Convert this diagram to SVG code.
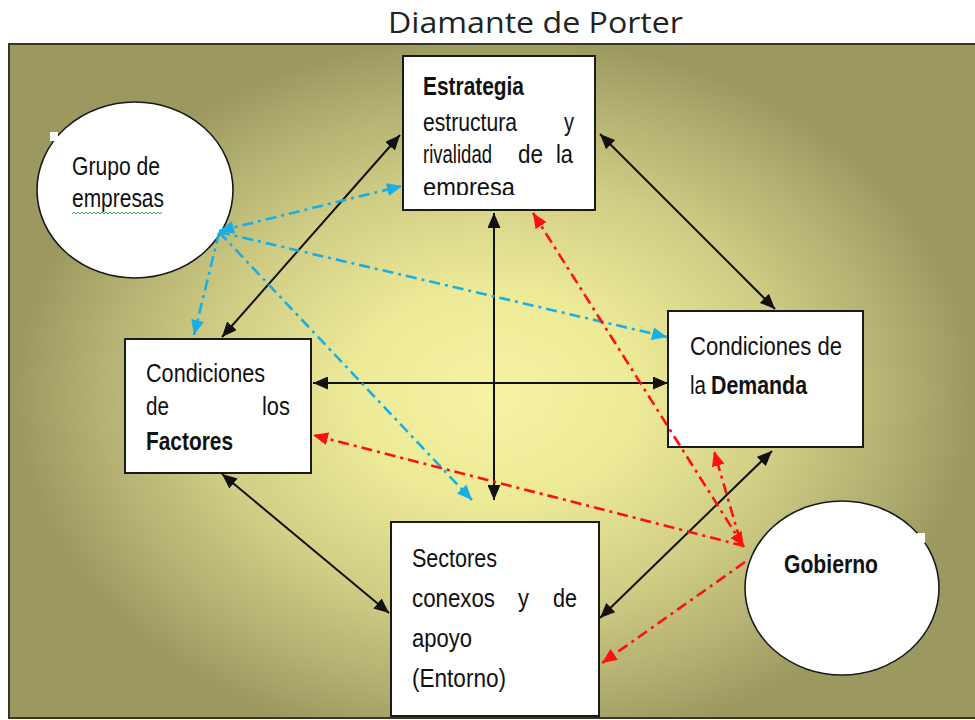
<svg xmlns="http://www.w3.org/2000/svg" width="975" height="720" viewBox="0 0 975 720">
<style>
.box{fill:#fff;stroke:#1a1a1a;stroke-width:2}
.ell{fill:#fff;stroke:#1a1a1a;stroke-width:1.6}
.t{font-family:"Liberation Sans",Arial,sans-serif;font-size:26px;fill:#111}
.b{font-weight:bold}
.blk{stroke:#111;stroke-width:2;fill:none;marker-start:url(#ak);marker-end:url(#ak)}
.blu{stroke:#19aee6;stroke-width:2.6;fill:none;stroke-dasharray:11 5 3 5}
.red{stroke:#ff1010;stroke-width:2.6;fill:none;stroke-dasharray:11 5 3 5}
</style>
<defs>
<radialGradient id="bg" gradientUnits="userSpaceOnUse" cx="495" cy="395" r="480" gradientTransform="translate(495 395) scale(1 0.75) translate(-495 -395)">
<stop offset="0" stop-color="#f6f4a2"/>
<stop offset="0.3" stop-color="#ecea97"/>
<stop offset="0.6" stop-color="#d0cd85"/>
<stop offset="0.85" stop-color="#b0ad70"/>
<stop offset="1" stop-color="#9c9960"/>
</radialGradient>
<marker id="ak" markerUnits="userSpaceOnUse" markerWidth="15" markerHeight="13" viewBox="0 0 15 13" refX="15" refY="6.5" orient="auto-start-reverse"><path d="M0,0 L15,6.5 L0,13 z" fill="#111"/></marker>
<marker id="ab" markerUnits="userSpaceOnUse" markerWidth="15" markerHeight="13" viewBox="0 0 15 13" refX="15" refY="6.5" orient="auto-start-reverse"><path d="M0,0 L15,6.5 L0,13 z" fill="#19aee6"/></marker>
<marker id="ar" markerUnits="userSpaceOnUse" markerWidth="15" markerHeight="13" viewBox="0 0 15 13" refX="15" refY="6.5" orient="auto-start-reverse"><path d="M0,0 L15,6.5 L0,13 z" fill="#ff1010"/></marker>
<clipPath id="clipE"><rect x="404" y="57" width="190" height="138"/></clipPath>
</defs>
<rect x="0" y="0" width="975" height="720" fill="#fff"/>
<text x="388" y="33" font-family="'Open Sans','Noto Sans',sans-serif" font-size="29" fill="#222" textLength="295" lengthAdjust="spacingAndGlyphs">Diamante de Porter</text>
<rect x="9" y="44" width="972" height="674" fill="url(#bg)" stroke="#3a3626" stroke-width="2"/>

<g id="estrategia">
<rect class="box" x="403" y="56" width="192" height="154"/>
<g clip-path="url(#clipE)">
<text class="t b" x="423" y="95" textLength="101" lengthAdjust="spacingAndGlyphs">Estrategia</text>
<text class="t" x="423" y="131" textLength="94" lengthAdjust="spacingAndGlyphs">estructura</text>
<text class="t" x="564" y="131" textLength="10" lengthAdjust="spacingAndGlyphs">y</text>
<text class="t" x="423" y="163" textLength="69" lengthAdjust="spacingAndGlyphs">rivalidad</text>
<text class="t" x="518" y="163" textLength="25" lengthAdjust="spacingAndGlyphs">de</text>
<text class="t" x="556" y="163" textLength="17" lengthAdjust="spacingAndGlyphs">la</text>
<text class="t" x="423" y="196" textLength="92" lengthAdjust="spacingAndGlyphs">empresa</text>
</g>
</g>

<g id="factores">
<rect class="box" x="125" y="339" width="186" height="134"/>
<text class="t" x="146" y="382" textLength="119" lengthAdjust="spacingAndGlyphs">Condiciones</text>
<text class="t" x="146" y="415" textLength="23" lengthAdjust="spacingAndGlyphs">de</text>
<text class="t" x="262" y="415" textLength="28" lengthAdjust="spacingAndGlyphs">los</text>
<text class="t b" x="146" y="450" textLength="87" lengthAdjust="spacingAndGlyphs">Factores</text>
</g>

<g id="demanda">
<rect class="box" x="668" y="311" width="195" height="136"/>
<text class="t" x="690" y="355" textLength="152" lengthAdjust="spacingAndGlyphs">Condiciones de</text>
<text class="t" x="690" y="394" textLength="16" lengthAdjust="spacingAndGlyphs">la</text>
<text class="t b" x="711" y="394" textLength="96" lengthAdjust="spacingAndGlyphs">Demanda</text>
</g>

<g id="sectores">
<rect class="box" x="391" y="522" width="208" height="194"/>
<text class="t" x="412" y="567" textLength="85" lengthAdjust="spacingAndGlyphs">Sectores</text>
<text class="t" x="412" y="607" textLength="83" lengthAdjust="spacingAndGlyphs">conexos</text>
<text class="t" x="518" y="607" textLength="11" lengthAdjust="spacingAndGlyphs">y</text>
<text class="t" x="553" y="607" textLength="24" lengthAdjust="spacingAndGlyphs">de</text>
<text class="t" x="412" y="647" textLength="60" lengthAdjust="spacingAndGlyphs">apoyo</text>
<text class="t" x="412" y="687" textLength="94" lengthAdjust="spacingAndGlyphs">(Entorno)</text>
</g>

<g id="grupo">
<ellipse class="ell" cx="135" cy="190" rx="98" ry="88"/>
<rect x="50" y="132" width="8" height="9" fill="#fff"/>
<text class="t" x="72" y="175" textLength="88" lengthAdjust="spacingAndGlyphs">Grupo de</text>
<text class="t" x="72" y="207" textLength="92" lengthAdjust="spacingAndGlyphs">empresas</text>
<path d="M72,214 l2,-2 l2,2 l2,-2 l2,2 l2,-2 l2,2 l2,-2 l2,2 l2,-2 l2,2 l2,-2 l2,2 l2,-2 l2,2 l2,-2 l2,2 l2,-2 l2,2 l2,-2 l2,2 l2,-2 l2,2 l2,-2 l2,2 l2,-2 l2,2 l2,-2 l2,2 l2,-2 l2,2 l2,-2 l2,2 l2,-2 l2,2 l2,-2 l2,2 l2,-2 l2,2 l2,-2 l2,2 l2,-2 l2,2 l2,-2 l2,2 l2,-2" fill="none" stroke="#3aa03a" stroke-width="1"/>
</g>

<g id="gobierno">
<ellipse class="ell" cx="842" cy="588" rx="97" ry="87"/>
<rect x="917" y="533" width="8" height="10" fill="#fff"/>
<text class="t b" x="784" y="573" textLength="94" lengthAdjust="spacingAndGlyphs">Gobierno</text>
</g>

<g id="connectors">
<line class="blk" x1="222" y1="337" x2="400" y2="135"/>
<line class="blk" x1="600" y1="134" x2="775" y2="309"/>
<line class="blk" x1="494" y1="213" x2="494" y2="500"/>
<line class="blk" x1="313" y1="383" x2="668" y2="383"/>
<line class="blk" x1="222" y1="474" x2="389" y2="613"/>
<line class="blk" x1="600" y1="618" x2="772" y2="451"/>

<line class="blu" x1="219" y1="231" x2="402" y2="186" marker-start="url(#ab)" marker-end="url(#ab)"/>
<line class="blu" x1="219" y1="233" x2="194" y2="335" marker-end="url(#ab)"/>
<line class="blu" x1="219" y1="232" x2="667" y2="337" marker-end="url(#ab)"/>
<line class="blu" x1="219" y1="232" x2="472" y2="500" marker-end="url(#ab)"/>

<line class="red" x1="533" y1="213" x2="744" y2="547" marker-start="url(#ar)" marker-end="url(#ar)"/>
<line class="red" x1="740" y1="540" x2="714" y2="451" marker-end="url(#ar)"/>
<line class="red" x1="744" y1="546" x2="313" y2="435" marker-end="url(#ar)"/>
<line class="red" x1="745" y1="562" x2="602" y2="663" marker-end="url(#ar)"/>
</g>
</svg>
